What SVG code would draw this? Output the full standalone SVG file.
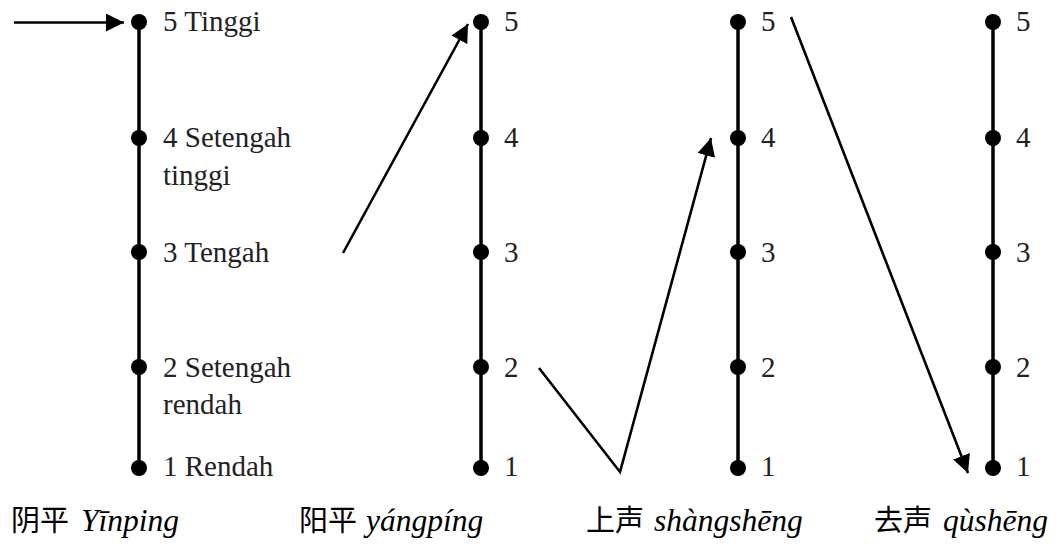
<svg xmlns="http://www.w3.org/2000/svg" width="1059" height="545" viewBox="0 0 1059 545">
<style>
.axis{stroke:#000;stroke-width:3.5;fill:none}
.dot{fill:#000}
.arr{stroke:#000;stroke-width:2.6;fill:none;stroke-linecap:butt;stroke-linejoin:miter}
.lbl{font-family:"Liberation Serif","Noto Sans CJK SC",serif;font-size:29px;fill:#222}
.cap{font-family:"Liberation Serif","Noto Sans CJK SC",serif;font-size:29px;fill:#000}
.it{font-style:italic;font-size:31.5px}
</style>
<defs>
<marker id="ah" markerUnits="userSpaceOnUse" markerWidth="20" markerHeight="18" refX="18" refY="9" orient="auto">
<path d="M0,0 L18,9 L0,18 Z" fill="#000"/>
</marker>
</defs>
<rect width="1059" height="545" fill="#fff"/>
<g id="scale-yinping">
<line class="axis" x1="139" y1="22" x2="139" y2="468"/>
<circle class="dot" cx="139" cy="22" r="8"/><circle class="dot" cx="139" cy="138" r="8"/><circle class="dot" cx="139" cy="252" r="8"/><circle class="dot" cx="139" cy="367" r="8"/><circle class="dot" cx="139" cy="468" r="8"/>
<text class="lbl" x="163" y="31">5 Tinggi</text>
<text class="lbl" x="163" y="147">4 Setengah</text>
<text class="lbl" x="163" y="185">tinggi</text>
<text class="lbl" x="163" y="262">3 Tengah</text>
<text class="lbl" x="163" y="377">2 Setengah</text>
<text class="lbl" x="163" y="414">rendah</text>
<text class="lbl" x="163" y="476">1 Rendah</text>
<text class="cap" x="11" y="531">阴平<tspan class="it" x="81">Yīnping</tspan></text>
</g>
<g id="scale-yangping">
<line class="axis" x1="481" y1="22" x2="481" y2="468"/>
<circle class="dot" cx="481" cy="22" r="8"/><circle class="dot" cx="481" cy="138" r="8"/><circle class="dot" cx="481" cy="252" r="8"/><circle class="dot" cx="481" cy="367" r="8"/><circle class="dot" cx="481" cy="468" r="8"/>
<text class="lbl" x="504" y="31">5</text>
<text class="lbl" x="504" y="147">4</text>
<text class="lbl" x="504" y="262">3</text>
<text class="lbl" x="504" y="377">2</text>
<text class="lbl" x="504" y="476">1</text>
<text class="cap" x="299" y="531">阳平<tspan class="it" x="366">yángpíng</tspan></text>
</g>
<g id="scale-shangsheng">
<line class="axis" x1="738" y1="22" x2="738" y2="468"/>
<circle class="dot" cx="738" cy="22" r="8"/><circle class="dot" cx="738" cy="138" r="8"/><circle class="dot" cx="738" cy="252" r="8"/><circle class="dot" cx="738" cy="367" r="8"/><circle class="dot" cx="738" cy="468" r="8"/>
<text class="lbl" x="761" y="31">5</text>
<text class="lbl" x="761" y="147">4</text>
<text class="lbl" x="761" y="262">3</text>
<text class="lbl" x="761" y="377">2</text>
<text class="lbl" x="761" y="476">1</text>
<text class="cap" x="586" y="531">上声<tspan class="it" x="654">shàngshēng</tspan></text>
</g>
<g id="scale-qusheng">
<line class="axis" x1="993" y1="22" x2="993" y2="468"/>
<circle class="dot" cx="993" cy="22" r="8"/><circle class="dot" cx="993" cy="138" r="8"/><circle class="dot" cx="993" cy="252" r="8"/><circle class="dot" cx="993" cy="367" r="8"/><circle class="dot" cx="993" cy="468" r="8"/>
<text class="lbl" x="1016" y="31">5</text>
<text class="lbl" x="1016" y="147">4</text>
<text class="lbl" x="1016" y="262">3</text>
<text class="lbl" x="1016" y="377">2</text>
<text class="lbl" x="1016" y="476">1</text>
<text class="cap" x="874" y="531">去声<tspan class="it" x="943">qùshēng</tspan></text>
</g>
<g id="connectors">
<line class="arr" x1="14" y1="22.5" x2="124" y2="22.5" marker-end="url(#ah)"/>
<line class="arr" x1="343" y1="253" x2="468" y2="24" marker-end="url(#ah)"/>
<polyline class="arr" points="539,368 620,472 711,138" marker-end="url(#ah)"/>
<line class="arr" x1="791" y1="17" x2="968" y2="473" marker-end="url(#ah)"/>
</g>
</svg>
